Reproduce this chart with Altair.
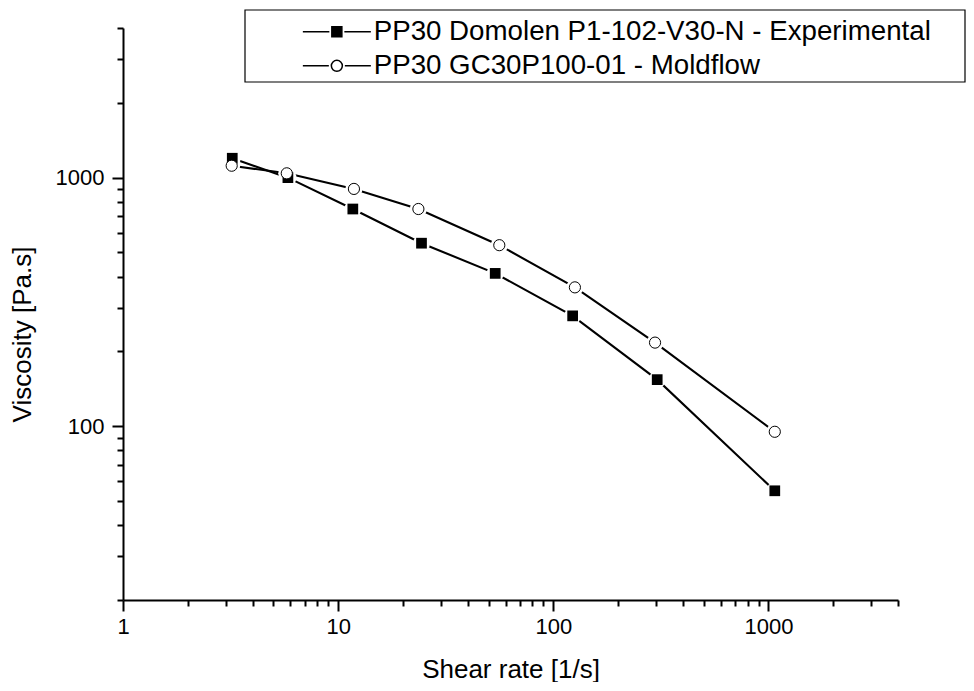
import altair as alt
import pandas as pd

exp_label = "PP30 Domolen P1-102-V30-N - Experimental"
mold_label = "PP30 GC30P100-01 - Moldflow"
series_names = [exp_label, mold_label]

exp_shear = [3.22, 5.84, 11.7, 24.4, 53.7, 123, 304, 1070]
exp_visc = [1197, 1000, 748, 545, 412, 278, 154, 55]
mold_shear = [3.20, 5.77, 11.84, 23.6, 56.1, 126, 297, 1070]
mold_visc = [1117, 1041, 901, 748, 535, 362, 217, 95]

x_major = [1, 10, 100, 1000]
x_minor = [2, 3, 4, 5, 6, 7, 8, 9, 20, 30, 40, 50, 60, 70, 80, 90,
           200, 300, 400, 500, 600, 700, 800, 900, 2000, 3000, 4000]
y_major = [100, 1000]
y_minor = [20, 30, 40, 50, 60, 70, 80, 90, 200, 300, 400, 500, 600, 700, 800, 900,
           2000, 3000, 4000]

df = pd.concat([
    pd.DataFrame({"shear": exp_shear, "visc": exp_visc, "series": exp_label}),
    pd.DataFrame({"shear": mold_shear, "visc": mold_visc, "series": mold_label}),
], ignore_index=True)

FONT = "Liberation Sans"
xs = alt.Scale(type="log", domain=[1, 4000], nice=False)
ys = alt.Scale(type="log", domain=[20, 4000], nice=False)

common_axis = dict(grid=False, tickColor="black", tickWidth=2, domainColor="black",
                   domainWidth=2, labelFont=FONT, labelColor="black",
                   labelFontSize=22, titleFont=FONT, titleColor="black",
                   titleFontSize=26, titleFontWeight="normal",
                   labelFlush=False, labelOverlap=False, labelBound=False)

x_major_axis = alt.Axis(values=x_major, format="d", tickSize=11, labelPadding=5,
                        title="Shear rate [1/s]", titlePadding=19, orient="bottom",
                        **common_axis)
y_major_axis = alt.Axis(values=y_major, format="d", tickSize=11, labelPadding=8,
                        title="Viscosity [Pa.s]", titlePadding=20, titleY=306,
                        orient="left", **common_axis)
x_minor_axis = alt.Axis(values=x_minor, labels=False, tickSize=6, domain=False,
                        grid=False, title=None, orient="bottom", tickColor="black",
                        tickWidth=2)
y_minor_axis = alt.Axis(values=y_minor, labels=False, tickSize=6, domain=False,
                        grid=False, title=None, orient="left", tickColor="black",
                        tickWidth=2)

base = alt.Chart(df)

# legend frame (decoration only)
frame = alt.Chart(pd.DataFrame({"k": [0]})).mark_rect(
    fill="white", stroke="black", strokeWidth=1.2).encode(
    x=alt.value(122), x2=alt.value(842), y=alt.value(-18), y2=alt.value(54))

lines = base.mark_line(color="black", strokeWidth=2.1).encode(
    x=alt.X("shear:Q", scale=xs, axis=x_major_axis),
    y=alt.Y("visc:Q", scale=ys, axis=y_major_axis),
    detail="series:N",
)

halos = base.mark_point(shape="circle", filled=True, color="white", opacity=1,
                        size=290).encode(
    x=alt.X("shear:Q", scale=xs, axis=x_minor_axis),
    y=alt.Y("visc:Q", scale=ys, axis=y_minor_axis),
)

squares = base.transform_filter(alt.datum.series == exp_label).mark_point(
    shape="square", filled=True, color="black", opacity=1, size=115).encode(
    x=alt.X("shear:Q", scale=xs, axis=None),
    y=alt.Y("visc:Q", scale=ys, axis=None),
)

circles = base.transform_filter(alt.datum.series == mold_label).mark_point(
    shape="circle", filled=True, fill="white", stroke="black", strokeWidth=1,
    opacity=1, size=125).encode(
    x=alt.X("shear:Q", scale=xs, axis=None),
    y=alt.Y("visc:Q", scale=ys, axis=None),
)

sq_path = "M-6.8,0L-1.5,0M1.5,0L6.8,0M-1,-1L1,-1L1,1L-1,1Z"
ci_path = ("M-6.8,0L-1.6,0M1.6,0L6.8,0M1.1,0A1.1,1.1,0,1,1,-1.1,0"
           "A1.1,1.1,0,1,1,1.1,0Z")

leg = dict(orient="none", legendX=122, legendY=-16, title=None,
           padding=6, labelFont=FONT, labelFontSize=27.7, labelColor="black",
           labelLimit=0, labelOffset=23, symbolOffset=72, symbolSize=100,
           symbolOpacity=1, symbolStrokeColor="black", symbolStrokeWidth=1.5,
           rowPadding=5)

legend_layer = base.transform_filter("false").mark_point(
    strokeWidth=1.5, opacity=1).encode(
    x=alt.X("shear:Q", scale=xs, axis=None),
    y=alt.Y("visc:Q", scale=ys, axis=None),
    shape=alt.Shape("series:N", scale=alt.Scale(domain=series_names,
                                                range=[sq_path, ci_path]),
                    legend=alt.Legend(**leg)),
    fill=alt.Fill("series:N", scale=alt.Scale(domain=series_names,
                                              range=["black", "white"]),
                  legend=alt.Legend(**leg)),
    stroke=alt.Stroke("series:N", scale=alt.Scale(domain=series_names,
                                                  range=["black", "black"]),
                      legend=alt.Legend(**leg)),
)

chart = alt.layer(frame, lines, halos, squares, circles, legend_layer).resolve_axis(
    x="independent", y="independent"
).properties(
    width=775, height=572,
    autosize=alt.AutoSizeParams(type="none"),
    padding={"left": 115, "top": 20, "right": 68, "bottom": 82},
).configure(background="white").configure_view(strokeWidth=0, stroke=None)

chart.save("out.html", embed_options={"renderer": "svg", "actions": False})
